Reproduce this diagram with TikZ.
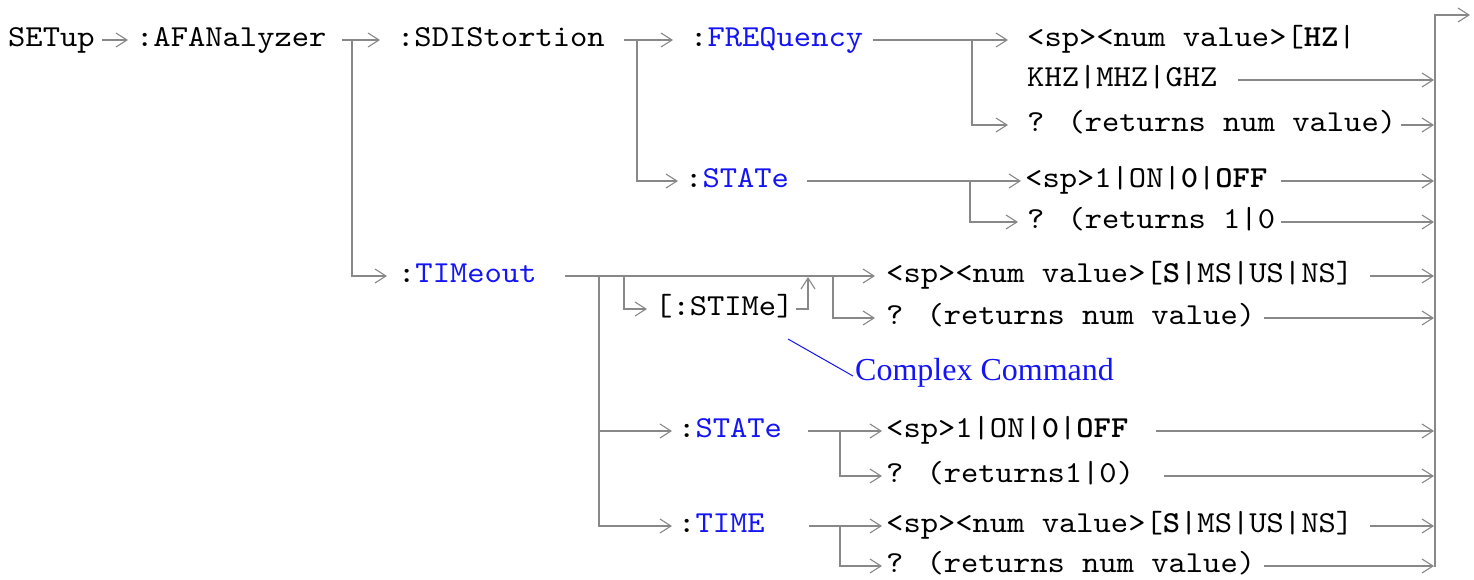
\documentclass[tikz,border=0pt]{standalone}
\usepackage{fontspec}
\setmainfont{Liberation Serif}
\newfontfamily\cour{lmmono10-regular}[Extension=.otf, BoldFont=lmmonolt10-bold, FakeStretch=1.08]
\usetikzlibrary{arrows.meta}
\definecolor{lgray}{RGB}{136,136,136}
\definecolor{cblue}{RGB}{20,20,245}
\begin{document}
\cour\fontsize{30.5}{36}\selectfont
\begin{tikzpicture}[x=1pt,y=-1pt,
  txt/.style={anchor=mid west, inner sep=0pt, font=\cour\fontsize{30.5}{36}\selectfont},
  conn/.style={draw=lgray, line width=2pt},
  arr/.style={conn, -{Straight Barb[length=11pt,width=14pt,line width=1.1pt]}}]
\useasboundingbox (0,0) rectangle (1474,579);

% text nodes
\node[txt] (setup) at (8,40) {SETup};
\node[txt] (afan) at (136,40) {:AFANalyzer};
\node[txt] (sdis) at (397,40) {:SDIStortion};
\node[txt] (freq) at (690,40) {:\textcolor{cblue}{FREQuency}};
\node[txt] (fnum) at (1027,40) {<sp><num value>[\textbf{HZ}|};
\node[txt] (khz) at (1027,80) {KHZ|MHZ|GHZ};
\node[txt] (fq) at (1027,125) {? (returns num value)};
\node[txt] (sstate) at (685,181) {:\textcolor{cblue}{STATe}};
\node[txt] (son) at (1025,181) {<sp>1|ON|\textbf{0}|\textbf{OFF}};
\node[txt] (sq) at (1027,222) {? (returns 1|0};
\node[txt] (tmo) at (398,276) {:\textcolor{cblue}{TIMeout}};
\node[txt] (snum) at (886,276) {<sp><num value>[\textbf{S}|MS|US|NS]};
\node[txt] (stime) at (655,309) {[:STIMe]};
\node[txt] (tq) at (886,318) {? (returns num value)};
\node[anchor=base west, inner sep=0pt, text=cblue, font=\rmfamily\fontsize{32}{38}\selectfont] (cc) at (855,380) {Complex Command};
\node[txt] (tstate) at (678,431) {:\textcolor{cblue}{STATe}};
\node[txt] (ton) at (886,431) {<sp>1|ON|\textbf{0}|\textbf{OFF}};
\node[txt] (tq2) at (886,476) {? (returns1|0)};
\node[txt] (time) at (678,526) {:\textcolor{cblue}{TIME}};
\node[txt] (tnum) at (886,526) {<sp><num value>[\textbf{S}|MS|US|NS]};
\node[txt] (tq3) at (886,566) {? (returns num value)};

% junction coordinates
\coordinate (barT) at (1435,15);
\coordinate (barB) at (1435,567);
\coordinate (barO) at (1470,15);
\coordinate (barx) at (1434,0);
\coordinate (jA) at (352,40);
\coordinate (jB) at (637,40);
\coordinate (jC) at (972,40);
\coordinate (jD) at (970,181);
\coordinate (jE) at (599,276);
\coordinate (jF) at (624,276);
\coordinate (jG) at (808,277);
\coordinate (jH) at (833,276);
\coordinate (jI) at (840,431);
\coordinate (jJ) at (840,526);
\coordinate (ccs) at (788,339);

% connectors
\draw[arr] ([xshift=7pt]setup.mid east) -- ([xshift=-8pt]afan.mid west);
\draw[arr] ([xshift=15pt]afan.mid east) -- ([xshift=-17pt]sdis.mid west);
\draw[arr] (jA) |- ([xshift=-11pt]tmo.mid west);
\draw[arr] ([xshift=19pt]sdis.mid east) -- ([xshift=-17pt]freq.mid west);
\draw[arr] (jB) |- ([xshift=-7pt]sstate.mid west);
\draw[arr] ([xshift=10pt]freq.mid east) -- ([xshift=-19pt]fnum.mid west);
\draw[arr] (jC) |- ([xshift=-19pt]fq.mid west);
\draw[arr] ([xshift=20pt]khz.mid east) -- (khz.mid east -| barx);
\draw[arr] ([xshift=5pt]fq.mid east) -- (fq.mid east -| barx);
\draw[arr] ([xshift=18pt]sstate.mid east) -- ([xshift=-4pt]son.mid west);
\draw[arr] (jD) |- ([xshift=-9pt]sq.mid west);
\draw[arr] ([xshift=13pt]son.mid east) -- (son.mid east -| barx);
\draw[arr] ([xshift=6pt]sq.mid east) -- (sq.mid east -| barx);

\draw[arr] ([xshift=28pt]tmo.mid east) -- ([xshift=-11pt]snum.mid west);
\draw[arr] (jE) |- ([xshift=-6pt]tstate.mid west);
\draw[arr] (jE) |- ([xshift=-6pt]time.mid west);
\draw[arr] (jF) |- ([xshift=-8pt]stime.mid west);
\draw[arr] ([xshift=2pt]stime.mid east) -| (jG);
\draw[arr] (jH) |- ([xshift=-11pt]tq.mid west);
\draw[arr] ([xshift=17pt]snum.mid east) -- (snum.mid east -| barx);
\draw[arr] ([xshift=9pt]tq.mid east) -- (tq.mid east -| barx);
\draw[cblue, line width=1pt] (ccs) -- ([xshift=-2pt,yshift=4pt]cc.base west);

\draw[arr] ([xshift=26pt]tstate.mid east) -- ([xshift=-4pt]ton.mid west);
\draw[arr] (jI) |- ([xshift=-4pt]tq2.mid west);
\draw[arr] ([xshift=27pt]ton.mid east) -- (ton.mid east -| barx);
\draw[arr] ([xshift=30pt]tq2.mid east) -- (tq2.mid east -| barx);
\draw[arr] ([xshift=44pt]time.mid east) -- ([xshift=-4pt]tnum.mid west);
\draw[arr] (jJ) |- ([xshift=-4pt]tq3.mid west);
\draw[arr] ([xshift=17pt]tnum.mid east) -- (tnum.mid east -| barx);
\draw[arr] ([xshift=9pt]tq3.mid east) -- (tq3.mid east -| barx);

\draw[arr] (barB) -- (barT) -- (barO);
\end{tikzpicture}
\end{document}
